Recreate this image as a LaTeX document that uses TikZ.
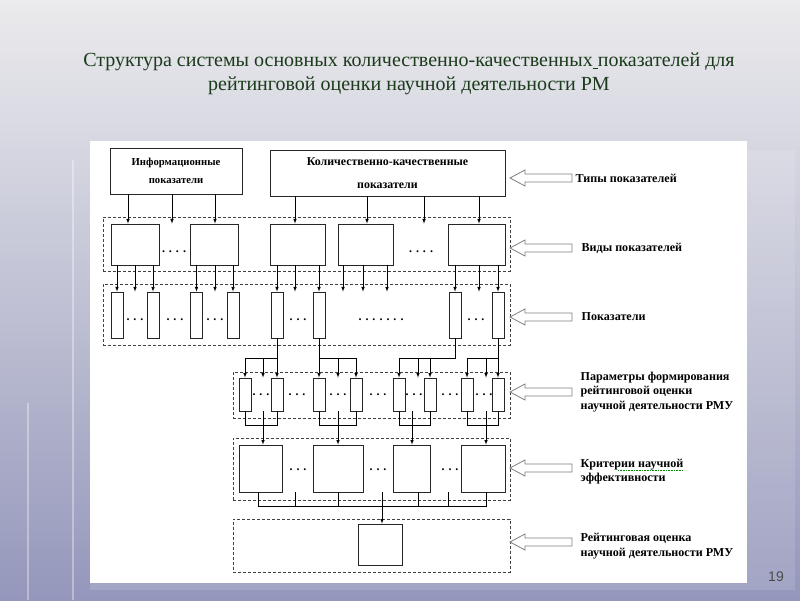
\documentclass[tikz,border=0pt]{standalone}
\usepackage{fontspec}
\setmainfont{Liberation Serif}
\newfontfamily\numfont{Liberation Sans}
\usepackage{tikz}
\usetikzlibrary{positioning}
\usetikzlibrary{arrows}
\definecolor{bgtop}{HTML}{EBEBED}
\definecolor{bgbot}{HTML}{9497BB}
\definecolor{titlegreen}{HTML}{1C3A1C}

\begin{document}
\begin{tikzpicture}[x=1pt,y=-1pt,>=latex]

\tikzstyle{box}=[rectangle, draw=black!85, fill=white, line width=0.8pt, inner sep=0pt]
\tikzstyle{tall}=[box, minimum width=12pt]
\tikzstyle{group}=[rectangle, draw=black!75, dash pattern=on 3pt off 2pt, line width=0.7pt, inner sep=0pt]
\tikzstyle{pointer}=[draw=black!50, fill=white, line width=0.8pt]
\tikzstyle{caption}=[anchor=west, align=left, font=\bfseries\fontsize{12.1}{14.5}\selectfont]
\tikzstyle{dots}=[font=\bfseries\fontsize{12}{14}\selectfont, inner sep=0pt]
\tikzstyle{every path}=[line width=0.6pt]

% slide
\shade[top color=bgtop, bottom color=bgbot] (0,0) rectangle (800,600);
\draw[white, opacity=0.35, line width=2pt] (73,160) -- (73,600);
\draw[white, opacity=0.35, line width=2pt] (28,403) -- (28,600);
\fill[white, opacity=0.12] (747,150) rectangle (795,590);
\fill[white, opacity=0.12] (90,583) rectangle (747,590);
\fill[white] (90,141) rectangle (747,583);

\node[align=center, text=titlegreen, font=\fontsize{20}{24}\selectfont] (heading) at (409,74) {Структура системы основных количественно-качественных\underline{\ }показателей для\\рейтинговой оценки научной деятельности РМ};
\node[text=black!70, font=\numfont\fontsize{14}{14}\selectfont] (pagenum) at (776,577) {19};

% frames
\node[group, minimum width=407pt, minimum height=54pt] (gvid) at (306.5,244) {};
\node[group, minimum width=407pt, minimum height=61pt] (gpok) at (306.5,314.5) {};
\node[group, minimum width=277pt, minimum height=46pt] (gpar) at (371.5,395) {};
\node[group, minimum width=277pt, minimum height=62pt] (gkrit) at (371.5,469) {};
\node[group, minimum width=277pt, minimum height=53pt] (grating) at (371.5,545.5) {};

% types
\node[box, minimum width=132pt, minimum height=46pt, align=center, font=\bfseries\fontsize{10.7}{18}\selectfont] (info) at (176,171) {Информационные\\показатели};
\node[box, minimum width=235pt, minimum height=46pt, align=center, font=\bfseries\fontsize{11.9}{23}\selectfont] (kk) at (387.5,173) {Количественно-качественные\\показатели};

% kinds
\node[box, minimum width=48pt, minimum height=41pt] (vid1) at (135,244.5) {};
\node[box, minimum width=48pt, minimum height=41pt] (vid2) at (214,244.5) {};
\node[box, minimum width=55pt, minimum height=41pt] (vid3) at (297.5,244.5) {};
\node[box, minimum width=55pt, minimum height=41pt] (vid4) at (365.5,244.5) {};
\node[box, minimum width=57pt, minimum height=41pt] (vid5) at (476.5,244.5) {};
\node[dots] at (174,252) {. . . .};
\node[dots] at (421,252) {. . . .};

% indicators
\node[tall, minimum height=46pt] (pok1) at (117,315) {};
\node[tall, minimum height=46pt] (pok2) at (153,315) {};
\node[tall, minimum height=46pt] (pok3) at (196.5,315) {};
\node[tall, minimum height=46pt] (pok4) at (233,315) {};
\node[tall, minimum height=46pt] (pok5) at (277,315) {};
\node[tall, minimum height=46pt] (pok6) at (319,315) {};
\node[tall, minimum height=46pt] (pok7) at (455,315) {};
\node[tall, minimum height=46pt] (pok8) at (498,315) {};
\node[dots] at (135,320) {. . .};
\node[dots] at (175,320) {. . .};
\node[dots] at (215,320) {. . .};
\node[dots] at (298,320) {. . .};
\node[dots] at (381,320) {. . . . . . .};
\node[dots] at (476,320) {. . .};

% parameters
\node[tall, minimum height=33pt] (par1) at (245,394.5) {};
\node[tall, minimum height=33pt] (par2) at (277,394.5) {};
\node[tall, minimum height=33pt] (par3) at (319,394.5) {};
\node[tall, minimum height=33pt] (par4) at (356,394.5) {};
\node[tall, minimum height=33pt] (par5) at (399,394.5) {};
\node[tall, minimum height=33pt] (par6) at (430,394.5) {};
\node[tall, minimum height=33pt] (par7) at (467,394.5) {};
\node[tall, minimum height=33pt] (par8) at (498,394.5) {};
\node[dots] at (261,395) {. . .};
\node[dots] at (297,395) {. . .};
\node[dots] at (338,395) {. . .};
\node[dots] at (378,395) {. . .};
\node[dots] at (414,395) {. . .};
\node[dots] at (450,395) {. . .};
\node[dots] at (484,395) {. . .};

% criteria
\node[box, minimum width=43pt, minimum height=47pt] (krit1) at (260.5,468.5) {};
\node[box, minimum width=50pt, minimum height=47pt] (krit2) at (338,468.5) {};
\node[box, minimum width=37pt, minimum height=47pt] (krit3) at (411.5,468.5) {};
\node[box, minimum width=44pt, minimum height=47pt] (krit4) at (483,468.5) {};
\node[dots] at (298,470) {. . .};
\node[dots] at (378,470) {. . .};
\node[dots] at (450,470) {. . .};

% rating
\node[box, minimum width=44pt, minimum height=41pt] (rating) at (380,544.5) {};

\coordinate (bus3) at (0,358);
\coordinate (bus4) at (0,425);
\coordinate (bus5) at (0,506);

\draw[->] (128,0 |- info.south) -- (128,0 |- vid1.north);
\draw[->] (172,0 |- info.south) -- (172,0 |- vid1.north);
\draw[->] (215,0 |- info.south) -- (215,0 |- vid2.north);
\draw[->] (295,0 |- kk.south) -- (295,0 |- vid3.north);
\draw[->] (367,0 |- kk.south) -- (367,0 |- vid4.north);
\draw[->] (424,0 |- kk.south) -- (424,0 |- vid4.north);
\draw[->] (479,0 |- kk.south) -- (479,0 |- vid5.north);

\draw[->] (pok1.north |- vid1.south) -- (pok1.north);
\draw[->] (135,0 |- vid1.south) -- (135,0 |- pok1.north);
\draw[->] (pok2.north |- vid1.south) -- (pok2.north);
\draw[->] (pok3.north |- vid2.south) -- (pok3.north);
\draw[->] (215,0 |- vid2.south) -- (215,0 |- pok1.north);
\draw[->] (pok4.north |- vid2.south) -- (pok4.north);
\draw[->] (pok5.north |- vid3.south) -- (pok5.north);
\draw[->] (295,0 |- vid3.south) -- (295,0 |- pok1.north);
\draw[->] (pok6.north |- vid3.south) -- (pok6.north);
\draw[->] (343,0 |- vid4.south) -- (343,0 |- pok1.north);
\draw[->] (363,0 |- vid4.south) -- (363,0 |- pok1.north);
\draw[->] (387,0 |- vid4.south) -- (387,0 |- pok1.north);
\draw[->] (pok7.north |- vid5.south) -- (pok7.north);
\draw[->] (479,0 |- vid5.south) -- (479,0 |- pok1.north);
\draw[->] (pok8.north |- vid5.south) -- (pok8.north);

\draw (pok5.south) |- (par1.north |- bus3);
\draw (pok6.south) |- (par4.north |- bus3);
\draw (pok7.south) |- (par5.north |- bus3);
\draw (pok8.south) |- (par7.north |- bus3);
\draw[->] (par1.north |- bus3) -- (par1.north);
\draw[->] (263,0 |- bus3) -- (263,0 |- par1.north);
\draw[->] (par2.north |- bus3) -- (par2.north);
\draw[->] (par3.north |- bus3) -- (par3.north);
\draw[->] (338,0 |- bus3) -- (338,0 |- par1.north);
\draw[->] (par4.north |- bus3) -- (par4.north);
\draw[->] (par5.north |- bus3) -- (par5.north);
\draw[->] (418,0 |- bus3) -- (418,0 |- par1.north);
\draw[->] (par6.north |- bus3) -- (par6.north);
\draw[->] (par7.north |- bus3) -- (par7.north);
\draw[->] (486,0 |- bus3) -- (486,0 |- par1.north);
\draw[->] (par8.north |- bus3) -- (par8.north);

\draw (par1.south) |- (bus4 -| par2.south) -- (par2.south);
\draw (par3.south) |- (bus4 -| par4.south) -- (par4.south);
\draw (par5.south) |- (bus4 -| par6.south) -- (par6.south);
\draw (par7.south) |- (bus4 -| par8.south) -- (par8.south);
\draw[->] (263,0 |- par1.south) -- (263,0 |- krit1.north);
\draw[->] (338,0 |- par1.south) -- (338,0 |- krit2.north);
\draw[->] (412,0 |- par1.south) -- (412,0 |- krit3.north);
\draw[->] (486,0 |- par1.south) -- (486,0 |- krit4.north);

\draw (258,0 |- krit1.south) |- (486,0 |- bus5) -- (486,0 |- krit4.south);
\draw (295,0 |- krit1.south) -- (295,0 |- bus5);
\draw (338,0 |- krit1.south) -- (338,0 |- bus5);
\draw (418,0 |- krit1.south) -- (418,0 |- bus5);
\draw (448,0 |- krit1.south) -- (448,0 |- bus5);
\draw[->] (382,0 |- krit1.south) -- (382,0 |- rating.north);

% pointers
\coordinate (ar1) at (510,178);
\coordinate (ar2) at (510,248);
\coordinate (ar3) at (510,317);
\coordinate (ar4) at (510,392);
\coordinate (ar5) at (510,468);
\coordinate (ar6) at (510,542);
\draw[pointer] (ar1) -- ++(15,-8) -- ++(0,4) -- ++(47,0) -- ++(0,8) -- ++(-47,0) -- ++(0,4) -- cycle;
\draw[pointer] (ar2) -- ++(15,-8) -- ++(0,4) -- ++(47,0) -- ++(0,8) -- ++(-47,0) -- ++(0,4) -- cycle;
\draw[pointer] (ar3) -- ++(15,-8) -- ++(0,4) -- ++(47,0) -- ++(0,8) -- ++(-47,0) -- ++(0,4) -- cycle;
\draw[pointer] (ar4) -- ++(15,-8) -- ++(0,4) -- ++(47,0) -- ++(0,8) -- ++(-47,0) -- ++(0,4) -- cycle;
\draw[pointer] (ar5) -- ++(15,-8) -- ++(0,4) -- ++(47,0) -- ++(0,8) -- ++(-47,0) -- ++(0,4) -- cycle;
\draw[pointer] (ar6) -- ++(15,-8) -- ++(0,4) -- ++(47,0) -- ++(0,8) -- ++(-47,0) -- ++(0,4) -- cycle;
\node[caption, right=62pt of ar1] {Типы показателей};
\node[caption, right=68pt of ar2] {Виды показателей};
\node[caption, right=68pt of ar3] {Показатели};
\node[caption, right=67pt of ar4] (params) {Параметры формирования\\рейтинговой оценки\\научной деятельности РМУ};
\node[caption, right=67pt of ar5, yshift=-3.5pt] (criteria) {Критерии научной\\эффективности};
\node[caption, right=67pt of ar6, yshift=-4pt] (ratingtext) {Рейтинговая оценка\\научной деятельности РМУ};
\draw[green!55!black, densely dotted, line width=0.6pt] (618,470) -- (683,470);

\end{tikzpicture}
\end{document}
